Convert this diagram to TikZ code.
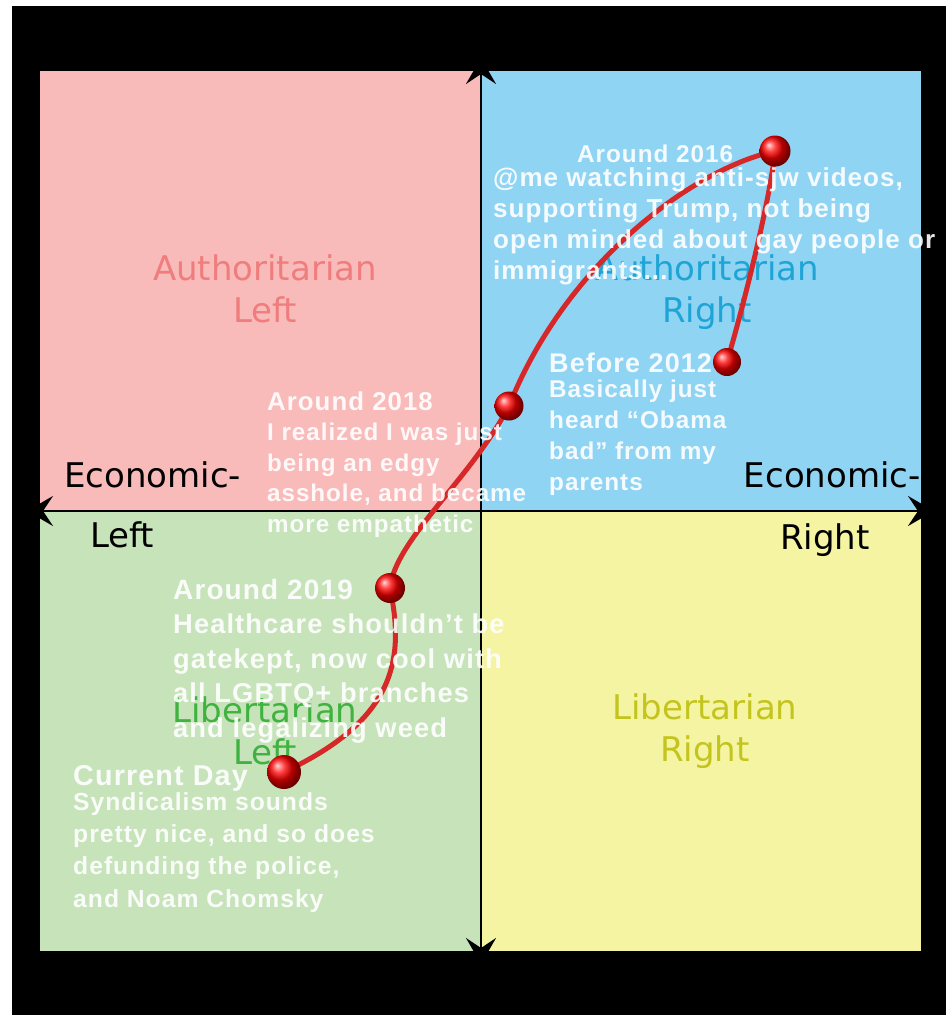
\documentclass[tikz,border=0pt]{standalone}
\usepackage{fontspec}
\setmainfont{DejaVu Sans}
\newfontfamily\notefont{Liberation Sans}[LetterSpace=4]
\definecolor{ALcol}{HTML}{F9BABA}
\definecolor{ARcol}{HTML}{90D4F4}
\definecolor{LLcol}{HTML}{C6E3BA}
\definecolor{LRcol}{HTML}{F4F4A2}
\definecolor{ALtxt}{HTML}{F07D7D}
\definecolor{ARtxt}{HTML}{1FA5D5}
\definecolor{LLtxt}{HTML}{3FB23F}
\definecolor{LRtxt}{HTML}{C4C41F}
\definecolor{Pathcol}{HTML}{D62828}
\usetikzlibrary{arrows.meta}
\tikzset{
    >={Stealth[length=26pt, width=30pt, inset=10pt]},
    quad/.style={font=\fontsize{34}{42}\selectfont, align=center, inner sep=0pt, anchor=north},
    axislabel/.style={font=\fontsize{34}{42}\selectfont, inner sep=0pt},
    note/.style n args={2}{font=\notefont\bfseries\fontsize{#1}{#2}\selectfont, text=white, text opacity=0.9, align=left, inner sep=0pt}
}

\begin{document}
\begin{tikzpicture}[x=1pt, y=-1pt]
    % Frame
    \fill[white] (0,0) rectangle (952,1020);
    \useasboundingbox (0,0) rectangle (952,1020);
    \fill[black] (12,6) rectangle (946,1015);

    % Coordinates
    \coordinate (NW) at (40,71);
    \coordinate (SE) at (921,951);
    \coordinate (O) at (481,511);
    \coordinate (top) at (481,58);
    \coordinate (bot) at (481,964);
    \coordinate (west) at (27,511);
    \coordinate (east) at (934,511);

    % Quadrants
    \fill[ALcol] (NW) rectangle (O);
    \fill[ARcol] (481,71) rectangle (921,511);
    \fill[LLcol] (40,511) rectangle (481,951);
    \fill[LRcol] (O) rectangle (SE);

    % Quadrant labels
    \node[quad, text=ALtxt] (al) at (265,254) {Authoritarian\\Left};
    \node[quad, text=ARtxt] (ar) at (707,254) {Authoritarian\\Right};
    \node[quad, text=LLtxt] (ll) at (265,696) {Libertarian\\Left};
    \node[quad, text=LRtxt] (lr) at (705,693) {Libertarian\\Right};

    % Axes
    \draw[<->, line width=2.5pt] (bot) -- (top);
    \draw[<->, line width=2.5pt] (west) -- (east);

    % Axis labels
    \node[axislabel, anchor=base west] (ecl) at (64,487.5) {Economic-};
    \node[axislabel, anchor=base west] (left) at (90,547) {Left};
    \node[axislabel, anchor=base east] (ecr) at (921,487.5) {Economic-};
    \node[axislabel, anchor=base west] (right) at (780,549) {Right};

    % Points of the path
    \coordinate (p2012) at (727,362);
    \coordinate (p2016) at (775,151);
    \coordinate (p2018) at (509,406);
    \coordinate (p2019) at (390,588);
    \coordinate (pNow) at (284,772);

    % Red path
    \draw[Pathcol, line width=5pt, line cap=round, line join=round]
        (p2012) .. controls (745,300) and (770,200) .. (p2016)
        .. controls (690,170) and (565,265) .. (p2018)
        .. controls (470,480) and (395,540) .. (p2019)
        .. controls (405,660) and (395,720) .. (pNow);

    % Notes
    \node[note={24.3}{31}, anchor=base west] (h2016) at (577,162) {Around 2016};
    \node[note={26}{31}, anchor=north west] (b2016) at (493,167.5) {@me watching anti-sjw videos,\\supporting Trump, not being\\open minded about gay people or\\immigrants...};
    \node[note={27}{31}, anchor=base west] (h2012) at (549,372) {Before 2012};
    \node[note={24.3}{31}, anchor=north west] (b2012) at (549,379.5) {Basically just\\heard “Obama\\bad” from my\\parents};
    \node[note={25.8}{31}, anchor=base west] (h2018) at (267,410) {Around 2018};
    \node[note={24.2}{30.8}, anchor=north west] (b2018) at (267,422.5) {I realized I was just\\being an edgy\\asshole, and became\\more empathetic};
    \node[note={28}{34}, anchor=base west] (h2019) at (173,599) {Around 2019};
    \node[note={27.3}{34.7}, anchor=north west] (b2019) at (173,613.5) {Healthcare shouldn’t be\\gatekept, now cool with\\all LGBTQ+ branches\\and legalizing weed};
    \node[note={28.7}{32}, anchor=base west] (hNow) at (73,785) {Current Day};
    \node[note={24.7}{32.3}, anchor=north west] (bNow) at (73,792) {Syndicalism sounds\\pretty nice, and so does\\defunding the police,\\and Noam Chomsky};

    % Dots
    \foreach \p/\r in {p2012/14, p2016/15.5, p2018/14.5, p2019/15, pNow/17}
        \shade[ball color=red] (\p) circle (\r);
\end{tikzpicture}
\end{document}
